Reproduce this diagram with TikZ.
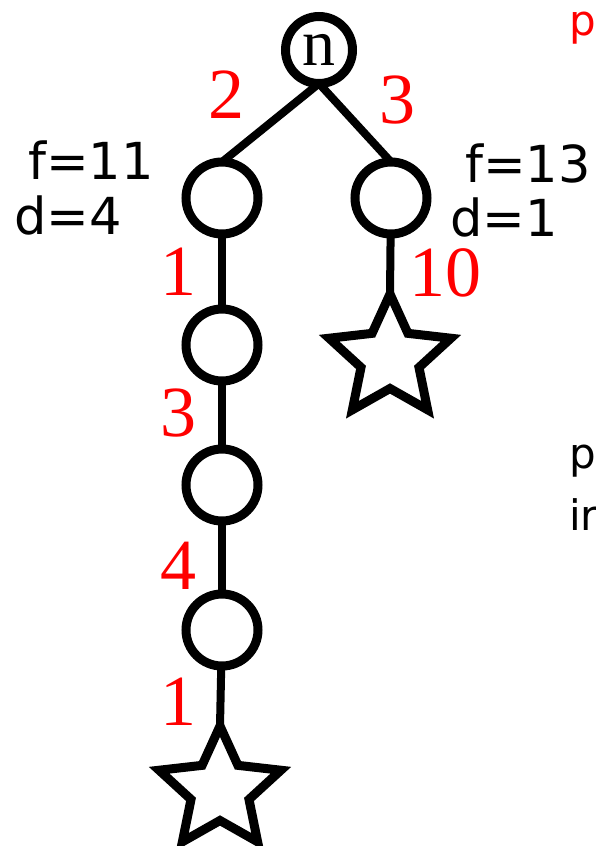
\documentclass[tikz,border=0pt]{standalone}
\usepackage{fontspec}
\setmainfont{Liberation Serif}
\newfontfamily\dejavu{DejaVu Sans}
\usetikzlibrary{shapes.geometric}
\begin{document}
\begin{tikzpicture}[x=1pt,y=-1pt,
  vert/.style={circle,draw,line width=9pt,minimum size=72pt,inner sep=0pt,outer sep=0pt},
  goal/.style={star,star points=5,star point ratio=2.1,draw,line width=9pt,miter limit=10,minimum size=128pt,inner sep=0pt,outer sep=0pt},
  edge/.style={line width=8pt},
  cost/.style={text=red,font=\fontsize{72}{72}\selectfont,inner sep=0pt},
  info/.style={font=\dejavu\fontsize{51}{51}\selectfont,inner sep=0pt},
  side/.style={font=\dejavu\fontsize{42}{42}\selectfont,inner sep=0pt,anchor=base west}]
\useasboundingbox (0,0) rectangle (596,846);
\node[vert,minimum size=67pt,font=\fontsize{66}{66}\selectfont] (n) at (319,50) {n};
\node[vert] (a1) at (222,198) {};
\node[vert] (b1) at (391,198) {};
\node[vert] (a2) at (222,345) {};
\node[vert] (a3) at (222,485) {};
\node[vert] (a4) at (222,630) {};
\node[goal] (s1) at (220,790) {};
\node[goal] (s2) at (390,358) {};
\coordinate (nb) at (n.south);
\draw[edge] (nb) -- (a1.north);
\draw[edge] (nb) -- (b1.north);
\draw[edge] (a1) -- (a2);
\draw[edge] (a2) -- (a3);
\draw[edge] (a3) -- (a4);
\draw[edge] (a4) -- (s1.north);
\draw[edge] (b1) -- (s2.north);
\node[cost] (c1) at (226,95) {2};
\node[cost] (c2) at (397,100) {3};
\node[cost] (c3) at (178,272) {1};
\node[cost] (c4) at (445,273) {10};
\node[cost] (c5) at (178,413) {3};
\node[cost] (c6) at (178,566) {4};
\node[cost] (c7) at (178,702) {1};
\node[info] (f1) at (91,160) {f=11};
\node[info] (d1) at (68,215) {d=4};
\node[info] (f2) at (528,163) {f=13};
\node[info] (d2) at (504,217) {d=1};
\node[side,text=red] (t1) at (569,35) {p};
\node[side] (t2) at (569,468) {p};
\node[side] (t3) at (569,530) {ir};
\end{tikzpicture}
\end{document}
